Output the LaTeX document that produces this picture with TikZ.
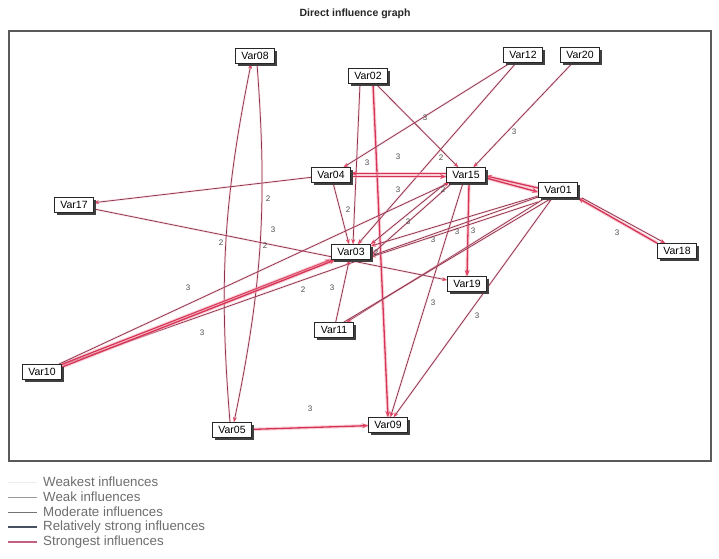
\documentclass[tikz,border=0pt]{standalone}
\usepackage{fontspec}
\setmainfont{Liberation Sans}
\usetikzlibrary{arrows.meta,shadows,calc}
\definecolor{edgec}{RGB}{140,50,76}
\definecolor{strongc}{RGB}{214,52,86}
\definecolor{tipc}{RGB}{226,70,100}
\definecolor{haloc}{RGB}{246,170,185}
\definecolor{frmc}{RGB}{90,90,90}
\definecolor{legtxt}{RGB}{110,110,110}
\pgfdeclarelayer{background}
\pgfsetlayers{background,main}
\tikzset{
  var/.style={draw=black!85, line width=0.8pt, fill=white,
    font=\fontsize{10.5}{11}\selectfont, inner sep=1.2pt,
    minimum width=39pt, minimum height=15pt,
    drop shadow={shadow xshift=2pt, shadow yshift=-2pt, fill=black!75, opacity=1}},
  e/.style={draw=edgec, line width=0.75pt, -{Stealth[length=5pt,width=4pt,color=tipc]},
    preaction={draw=haloc, line width=2.2pt, opacity=0.35, -}},
  es/.style={draw=strongc, line width=1.3pt, -{Stealth[length=6pt,width=5pt,color=tipc]},
    preaction={draw=haloc, line width=3.4pt, opacity=0.55, -}},
  lab/.style={font=\fontsize{8}{8}\selectfont, text=black!70, inner sep=0.5pt},
  legtext/.style={anchor=west, font=\fontsize{13.3}{14}\selectfont, text=legtxt, inner sep=0pt}
}
\begin{document}
\begin{tikzpicture}[x=1pt,y=-1pt]
\useasboundingbox (0,0) rectangle (719,558);
\begin{pgfonlayer}{background}
\fill[white] (0,0) rectangle (719,558);
\end{pgfonlayer}
% title and frame
\node[font=\bfseries\fontsize{10.5}{12}\selectfont, text=black!85] (title) at (355,14) {Direct influence graph};
\draw[line width=1.6pt, draw=frmc] (9,31) rectangle (711,461);

% nodes
\node[var] (Var08) at (255,56) {Var08};
\node[var] (Var02) at (368,76) {Var02};
\node[var] (Var12) at (523,55) {Var12};
\node[var] (Var20) at (580,55) {Var20};
\node[var] (Var04) at (331,175) {Var04};
\node[var] (Var15) at (466,175) {Var15};
\node[var] (Var01) at (558,190) {Var01};
\node[var] (Var17) at (74,205) {Var17};
\node[var] (Var03) at (351,252) {Var03};
\node[var] (Var18) at (677,251) {Var18};
\node[var] (Var19) at (467,284) {Var19};
\node[var] (Var11) at (334,330) {Var11};
\node[var] (Var10) at (42,372) {Var10};
\node[var] (Var05) at (232,430) {Var05};
\node[var] (Var09) at (388,425) {Var09};

\begin{pgfonlayer}{background}
% Var05 / Var08 lens
\draw[e] ([xshift=-2pt]Var05.north) to[bend left=8] ([xshift=-4pt]Var08.south);
\draw[e] ([xshift=2pt]Var08.south) to[bend left=8] ([xshift=2pt]Var05.north);
\draw[es] (Var05) -- (Var09);
% Var02
\draw[e] ([xshift=-8pt]Var02.south) -- ([xshift=2pt]Var03.north);
\draw[es] ([xshift=5pt]Var02.south) -- (Var09.north);
\draw[e] (Var02) -- (Var15);
% Var12, Var20
\draw[e] (Var12) -- (Var04);
\draw[e] (Var12) -- (Var03);
\draw[e] (Var20) -- (Var15);
% Var04 <-> Var15
\draw[es] ([yshift=1.6pt]Var15.west) -- ([yshift=1.6pt]Var04.east);
\draw[es] ([yshift=-1.6pt]Var04.east) -- ([yshift=-1.6pt]Var15.west);
\draw[e] (Var04) -- (Var17);
\draw[e] (Var04) -- (Var03);
\draw[e] (Var17) -- (Var19);
% Var15
\draw[e] (Var15.south west) -- (Var03.north east);
\draw[e] ([xshift=6pt]Var15.south west) -- ([yshift=-3pt]Var03.east);
\draw[es] ([xshift=3pt]Var15.south) -- (Var19.north);
\draw[e] ([xshift=-3pt]Var15.south) -- (Var09);
% Var01 <-> Var15
\draw[es] ([yshift=2pt]Var01.west) -- ([yshift=-1pt]Var15.east);
\draw[es] ([yshift=-3pt]Var15.east) -- ([yshift=-2pt]Var01.west);
% Var18
\draw[es] (Var18.north west) -- (Var01.south east);
\draw[e] ([xshift=4pt]Var01.south east) -- ([xshift=8pt]Var18.north west);
% Var01 outgoing
\draw[e] (Var01) -- (Var03);
\draw[e] ([yshift=-4pt]Var01.south west) -- ([yshift=-5pt]Var03.east);
\draw[e] (Var01) -- (Var10);
\draw[e] (Var01) -- (Var11);
\draw[e] ([xshift=-10pt]Var11.north east) -- ([xshift=-6pt]Var01.south);
\draw[e] (Var01) -- (Var09);
% Var10
\draw[es] (Var10) -- (Var03);
\draw[es] ([yshift=-3pt]Var10.north east) -- ([xshift=4pt]Var03.south west);
\draw[e] (Var10) -- (Var15);
% Var11
\draw[e] (Var11) -- (Var03);
\end{pgfonlayer}

% edge labels
\node[lab] (l1) at (310,409) {3};
\node[lab] (l2) at (425,118) {3};
\node[lab] (l3) at (514,132) {3};
\node[lab] (l4) at (398,157) {3};
\node[lab] (l5) at (441,158) {2};
\node[lab] (l6) at (367,163) {3};
\node[lab] (l7) at (268,199) {2};
\node[lab] (l8) at (221,243) {2};
\node[lab] (l9) at (265,246) {2};
\node[lab] (l10) at (273,230) {3};
\node[lab] (l11) at (348,210) {2};
\node[lab] (l12) at (398,190) {3};
\node[lab] (l13) at (443,190) {2};
\node[lab] (l14) at (408,222) {3};
\node[lab] (l15) at (433,240) {3};
\node[lab] (l16) at (457,232) {3};
\node[lab] (l17) at (473,231) {3};
\node[lab] (l18) at (188,288) {3};
\node[lab] (l19) at (202,333) {3};
\node[lab] (l20) at (303,290) {2};
\node[lab] (l21) at (332,288) {3};
\node[lab] (l22) at (433,303) {3};
\node[lab] (l23) at (477,316) {3};
\node[lab] (l24) at (617,233) {3};
\node[lab] (l25) at (376,253) {2};

% legend
\coordinate (a1) at (8,482); \coordinate (b1) at (37,482);
\coordinate (a2) at (8,497); \coordinate (b2) at (37,497);
\coordinate (a3) at (8,512); \coordinate (b3) at (37,512);
\coordinate (a4) at (8,527); \coordinate (b4) at (37,527);
\coordinate (a5) at (8,542); \coordinate (b5) at (37,542);
\draw[draw=black!7, line width=0.6pt] (a1) -- (b1);
\draw[draw=black!40, line width=0.6pt] (a2) -- (b2);
\draw[draw=black!55, line width=1pt] (a3) -- (b3);
\draw[draw={rgb,255:red,70;green,82;blue,96}, line width=1.8pt] (a4) -- (b4);
\draw[draw={rgb,255:red,196;green,96;blue,128}, line width=2pt] (a5) -- (b5);
\node[legtext] (t1) at (43,482) {Weakest influences};
\node[legtext] (t2) at (43,497) {Weak influences};
\node[legtext] (t3) at (43,512) {Moderate influences};
\node[legtext] (t4) at (43,527) {Relatively strong influences};
\node[legtext] (t5) at (43,542) {Strongest influences};
\end{tikzpicture}
\end{document}
